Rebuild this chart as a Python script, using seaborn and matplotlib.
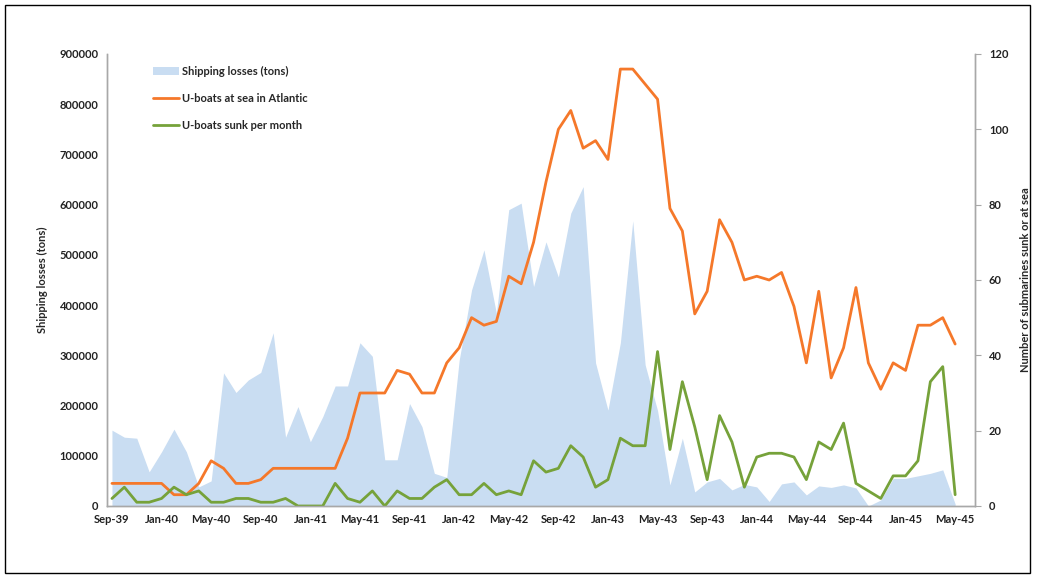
import pandas as pd
import matplotlib
matplotlib.use('Agg')
import matplotlib.pyplot as plt
import seaborn as sns
from matplotlib.patches import Patch, Rectangle
from matplotlib.lines import Line2D

# monthly data, Sep-39 .. May-45
months = pd.date_range('1939-09-01', '1945-05-01', freq='MS').strftime('%b-%y').tolist()

shipping_losses = [151000, 137000, 135000, 68000, 108000, 153000, 108000, 38000, 50000, 265000,
                   226000, 251000, 266000, 345000, 137000, 198000, 128000, 178000, 239000, 239000,
                   325000, 298000, 92000, 92000, 204000, 158000, 65000, 57000, 290000, 430000,
                   510000, 384000, 590000, 603000, 437000, 526000, 456000, 583000, 636000, 285000,
                   191000, 325000, 568000, 281000, 190000, 42000, 135000, 28000, 48000, 55000,
                   32000, 43000, 38000, 9000, 44000, 48000, 22000, 40000, 37000, 42000,
                   36000, 0, 12000, 55000, 55000, 60000, 65000, 72000, 4000]

uboats_at_sea = [6, 6, 6, 6, 6, 3, 3, 6, 12, 10,
                 6, 6, 7, 10, 10, 10, 10, 10, 10, 18,
                 30, 30, 30, 36, 35, 30, 30, 38, 42, 50,
                 48, 49, 61, 59, 70, 86, 100, 105, 95, 97,
                 92, 116, 116, 112, 108, 79, 73, 51, 57, 76,
                 70, 60, 61, 60, 62, 53, 38, 57, 34, 42,
                 58, 38, 31, 38, 36, 48, 48, 50, 43]

uboats_sunk = [2, 5, 1, 1, 2, 5, 3, 4, 1, 1,
               2, 2, 1, 1, 2, 0, 0, 0, 6, 2,
               1, 4, 0, 4, 2, 2, 5, 7, 3, 3,
               6, 3, 4, 3, 12, 9, 10, 16, 13, 5,
               7, 18, 16, 16, 41, 15, 33, 21, 7, 24,
               17, 5, 13, 14, 14, 13, 7, 17, 15, 22,
               6, 4, 2, 8, 8, 12, 33, 37, 3]

tick_labels = ['Sep-39', 'Jan-40', 'May-40', 'Sep-40', 'Jan-41', 'May-41', 'Sep-41', 'Jan-42',
               'May-42', 'Sep-42', 'Jan-43', 'May-43', 'Sep-43', 'Jan-44', 'May-44', 'Sep-44',
               'Jan-45', 'May-45']

df = pd.DataFrame({'month': months, 'losses': shipping_losses,
                   'at_sea': uboats_at_sea, 'sunk': uboats_sunk})
df['x'] = range(len(df))

blue = '#C9DDF2'
orange = '#F5782A'
green = '#76A23A'

sns.set_style('white')
plt.rcParams['font.family'] = ['Lato', 'DejaVu Sans']
plt.rcParams['font.weight'] = 'bold'

fig = plt.figure(figsize=(10.37, 5.76), dpi=100)
ax = fig.add_axes([107 / 1037, 1 - 506 / 576, (975 - 107) / 1037, (506 - 54) / 576])

ax.fill_between(df['x'], df['losses'], 0, color=blue, linewidth=0)
ax.set_ylim(0, 900000)
ax.set_yticks(range(0, 900001, 100000))
ax.set_xlim(-0.4, 69.6)
ax.set_xticks([df['month'].tolist().index(t) for t in tick_labels])
ax.set_xticklabels(tick_labels)
ax.set_ylabel('Shipping losses (tons)', fontsize=8, fontweight='bold', labelpad=8)
ax.set_xlabel('')

ax2 = ax.twinx()
sns.lineplot(data=df, x='x', y='at_sea', ax=ax2, color=orange, linewidth=2.0)
sns.lineplot(data=df, x='x', y='sunk', ax=ax2, color=green, linewidth=2.0)
ax2.set_ylim(0, 120)
ax2.set_yticks(range(0, 121, 20))
ax2.set_xlim(-0.4, 69.6)
ax2.set_ylabel('Number of submarines sunk or at sea', fontsize=8, fontweight='bold', labelpad=8)
ax2.set_xlabel('')

for a in (ax, ax2):
    for s in a.spines.values():
        s.set_color('#A8A8A8')
        s.set_linewidth(1.0)
    a.spines['top'].set_visible(False)
    a.tick_params(labelsize=8, colors='#222222', length=0, pad=6)
ax2.tick_params(axis='y', length=4, width=0.8, color='#A8A8A8', direction='out')
for lab in ax.get_xticklabels() + ax.get_yticklabels() + ax2.get_yticklabels():
    lab.set_fontweight('bold')

handles = [Patch(facecolor=blue, edgecolor='none'),
           Line2D([], [], color=orange, linewidth=2.0),
           Line2D([], [], color=green, linewidth=2.0)]
labels = ['Shipping losses (tons)', 'U-boats at sea in Atlantic', 'U-boats sunk per month']
fig.legend(handles, labels, loc='upper left', bbox_to_anchor=(143 / 1037, 1 - 56 / 576),
           frameon=False, prop={'size': 8, 'weight': 'bold'}, labelspacing=1.45,
           handlelength=2.3, handletextpad=0.3)

fig.patches.append(Rectangle((5 / 1037, 3 / 576), 1025 / 1037, 568 / 576,
                             transform=fig.transFigure, fill=False,
                             edgecolor='black', linewidth=1.0))

fig.savefig('out.png', dpi=100)
